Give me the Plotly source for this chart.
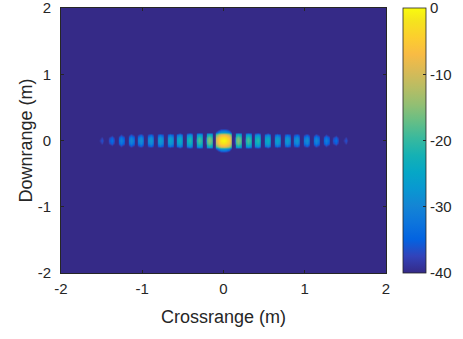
import numpy as np
import plotly.graph_objects as go

# Crossrange profile (dB) sampled every 0.03 m from -1.68 m to 1.68 m
cross_db = [
    -70, -70, -70, -70,
    -70, -39.5, -36, -39.5,
    -70, -36.5, -33, -36.5,
    -70, -34, -30.5, -34,
    -70, -32.5, -29, -32.5,
    -70, -31.5, -28, -31.5,
    -70, -30.5, -27, -30.5,
    -70, -29.5, -26, -29.5,
    -70, -28.5, -25, -28.5,
    -70, -26.5, -23, -26.5,
    -70, -24, -20.5, -24,
    -70, -21.5, -18, -21.5,
    -70, -18, -14.5, -18,
    -70, -10.5, -3.9, -0.9,
    0,
    -0.9, -3.9, -10.5, -70,
    -18, -14.5, -18, -70,
    -21.5, -18, -21.5, -70,
    -24, -20.5, -24, -70,
    -26.5, -23, -26.5, -70,
    -28.5, -25, -28.5, -70,
    -29.5, -26, -29.5, -70,
    -30.5, -27, -30.5, -70,
    -31.5, -28, -31.5, -70,
    -32.5, -29, -32.5, -70,
    -34, -30.5, -34, -70,
    -36.5, -33, -36.5, -70,
    -39.5, -36, -39.5, -70,
    -70, -70, -70, -70,
]
cross_m = np.linspace(-1.68, 1.68, len(cross_db))

# Downrange profile (dB)
down_m = [-0.2, -0.175, -0.15, -0.125, -0.11, -0.09, -0.05, 0,
          0.05, 0.09, 0.11, 0.125, 0.15, 0.175, 0.2]
down_db = [-70, -40, -32, -26, -14, -8, -2, 0,
           -2, -8, -14, -26, -32, -40, -70]

x_ticks = [-2, -1, 0, 1, 2]
x_ticktext = ["-2", "-1", "0", "1", "2"]
y_ticks = [-2, -1, 0, 1, 2]
y_ticktext = ["-2", "-1", "0", "1", "2"]
cb_ticks = [-40, -30, -20, -10, 0]
cb_ticktext = ["-40", "-30", "-20", "-10", "0"]

z = np.array(down_db)[:, None] + np.array(cross_db)[None, :]

parula_rgb = [
    (0.2081, 0.1663, 0.5292), (0.1959, 0.2645, 0.7279), (0.0117, 0.3875, 0.8820),
    (0.0498, 0.4586, 0.8641), (0.0793, 0.5200, 0.8312), (0.0343, 0.5966, 0.8199),
    (0.0228, 0.6535, 0.7768), (0.0843, 0.6928, 0.7062), (0.2178, 0.7250, 0.6193),
    (0.3953, 0.7459, 0.5244), (0.5709, 0.7485, 0.4494), (0.7184, 0.7411, 0.3905),
    (0.8507, 0.7299, 0.3360), (0.9739, 0.7314, 0.2666), (0.9880, 0.8066, 0.1794),
    (0.9589, 0.8949, 0.1132), (0.9763, 0.9831, 0.0538),
]
idx = [1, 5, 9, 13, 17, 21, 25, 29, 33, 37, 41, 45, 49, 53, 57, 61, 64]
parula = [[(i - 1) / 63, "rgb(%d,%d,%d)" % tuple(round(c * 255) for c in rgb)]
          for i, rgb in zip(idx, parula_rgb)]

txt = "#262626"
font = "Liberation Sans, Arial, Helvetica, sans-serif"
tick_size = 15
title_size = 18

fig = go.Figure(go.Heatmap(
    x=cross_m, y=down_m, z=z, zmin=-40, zmax=0,
    colorscale=parula, zsmooth="best", hoverinfo="skip",
    colorbar=dict(
        x=(403 - 61) / 325, xanchor="left", y=0.5, yanchor="middle",
        len=1, lenmode="fraction", thickness=23, thicknessmode="pixels",
        xpad=0, ypad=0, outlinewidth=0.8, outlinecolor=txt,
        tickvals=cb_ticks, ticktext=cb_ticktext, ticks="inside",
        ticklen=3, tickcolor=txt, tickwidth=0.8,
        ticklabeloverflow="allow",
        tickfont=dict(family=font, size=tick_size, color=txt),
    ),
))

fig.update_layout(
    width=463, height=339, autosize=False,
    margin=dict(l=61, r=77, t=8, b=66, autoexpand=False),
    paper_bgcolor="white", plot_bgcolor="rgb(53,42,135)",
    font=dict(family=font, color=txt),
    xaxis=dict(
        range=[-2, 2], tickvals=x_ticks, ticktext=x_ticktext,
        ticks="inside", ticklen=3, tickcolor=txt, tickwidth=0.8,
        showline=True, mirror="ticks", linecolor=txt, linewidth=0.8,
        showgrid=False, zeroline=False, ticklabelstandoff=2,
        ticklabeloverflow="allow",
        tickfont=dict(size=tick_size, color=txt),
        title=dict(text="Crossrange (m)", font=dict(size=title_size, color=txt), standoff=14),
    ),
    yaxis=dict(
        range=[-2, 2], tickvals=y_ticks, ticktext=y_ticktext,
        ticks="inside", ticklen=3, tickcolor=txt, tickwidth=0.8,
        showline=True, mirror="ticks", linecolor=txt, linewidth=0.8,
        showgrid=False, zeroline=False, ticklabelstandoff=6,
        ticklabeloverflow="allow",
        tickfont=dict(size=tick_size, color=txt),
        title=dict(text="Downrange (m)", font=dict(size=title_size, color=txt), standoff=0),
    ),
)

fig.write_html("out.html", config={"displayModeBar": False},
               post_script="document.body.style.margin='0';")
